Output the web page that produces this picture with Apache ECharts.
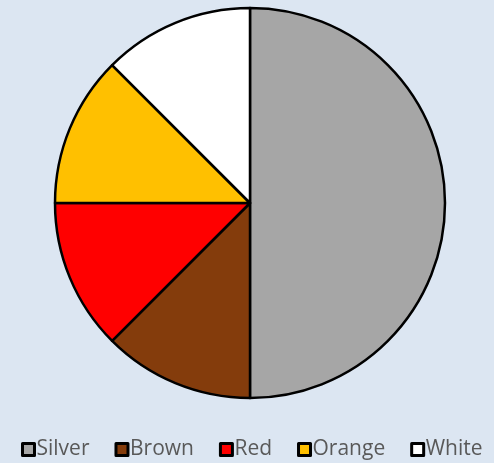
<!DOCTYPE html>
<html><head><meta charset="utf-8">
<script src="https://cdn.jsdelivr.net/npm/echarts@6/dist/echarts.min.js"></script>
<style>html,body{margin:0;padding:0;background:#dce6f2}#c{width:494px;height:463px}</style>
</head><body><div id="c"></div>
<script>
const categories = ['Silver','Brown','Red','Orange','White'];
const values = [4,1,1,1,1];
const colors = ['#a6a6a6','#843c0c','#ff0000','#ffc000','#ffffff'];
const chart = echarts.init(document.getElementById('c'));
chart.setOption({
  backgroundColor:'#dce6f2',
  animation:false,
  legend:{
    top:439, left:21, padding:0,
    itemWidth:12, itemHeight:12, itemGap:25,
    icon:'rect',
    itemStyle:{borderColor:'#000',borderWidth:3},
    textStyle:{color:'#595959',fontSize:21,fontFamily:'Open Sans',padding:[0,0,0,-3]},
    data:categories
  },
  series:[{
    type:'pie',
    center:[250,203], radius:[0,195],
    startAngle:90, clockwise:true,
    label:{show:false}, labelLine:{show:false},
    itemStyle:{borderColor:'#000',borderWidth:2.5},
    emphasis:{disabled:true},
    data:categories.map((n,i)=>({name:n,value:values[i],itemStyle:{color:colors[i]}}))
  }]
});
</script></body></html>
